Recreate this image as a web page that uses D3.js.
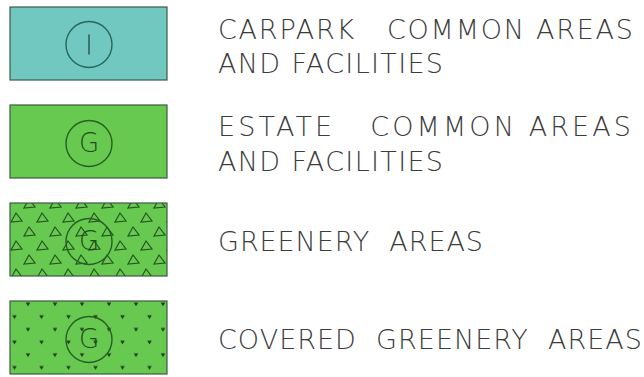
<!DOCTYPE html>
<html>
<head>
<meta charset="utf-8">
<script src="https://cdn.jsdelivr.net/npm/d3@7"></script>
<style>
  body { margin: 0; background: #fff; }
  text { white-space: pre; }
</style>
</head>
<body>
<div id="chart"></div>
<script>
// legend entries
const keys = ["carpark", "estate", "greenery", "covered"];
const labelLines = [
  ["CARPARK   COMMON AREAS", "AND FACILITIES"],
  ["ESTATE   COMMON AREAS", "AND FACILITIES"],
  ["GREENERY  AREAS"],
  ["COVERED  GREENERY  AREAS"]
];
const lineWidths = [[415, 225], [413, 225], [265], [424]];
const symbols = ["I", "G", "G", "G"];
const fills = ["#70c8c0", "#67c94f", "#67c94f", "#67c94f"];
const patterns = [null, null, "tri", "dot"];

const W = 644, H = 377;
const svg = d3.select("#chart")
  .append("svg")
  .attr("width", W)
  .attr("height", H);

const defs = svg.append("defs");

// triangle hatch
const tri = defs.append("pattern")
  .attr("id", "tri")
  .attr("patternUnits", "userSpaceOnUse")
  .attr("x", 10).attr("y", 203)
  .attr("width", 26).attr("height", 28);
tri.append("rect").attr("width", 26).attr("height", 28).attr("fill", "#67c94f");
const triPts = [[5, 3], [18, 17]];
triPts.forEach(([px, py]) => {
  tri.append("path")
    .attr("d", `M${px - 4},${py + 9} L${px + 1},${py} L${px + 7},${py + 8} Z`)
    .attr("fill", "none")
    .attr("stroke", "#24541f")
    .attr("stroke-width", 1.2);
});

// dot hatch
const dot = defs.append("pattern")
  .attr("id", "dot")
  .attr("patternUnits", "userSpaceOnUse")
  .attr("x", 10).attr("y", 302)
  .attr("width", 27).attr("height", 25.4);
dot.append("rect").attr("width", 27).attr("height", 25.4).attr("fill", "#67c94f");
[[18, 6], [4.5, 18.7]].forEach(([px, py]) => {
  dot.append("path")
    .attr("d", `M${px - 2.3},${py - 1.5} L${px + 2.3},${py - 1.5} L${px},${py + 2} Z`)
    .attr("fill", "#1f3a1d");
});

const y = d3.scaleBand()
  .domain(keys)
  .range([7, 374])
  .paddingInner(0.255)
  .paddingOuter(0);

const x = d3.scaleLinear()
  .domain([0, 1])
  .range([10, 167]);

const rows = svg.selectAll("g.row")
  .data(keys)
  .enter()
  .append("g")
  .attr("class", "row")
  .attr("transform", d => `translate(0,${y(d)})`);

rows.append("rect")
  .attr("x", x(0))
  .attr("y", 0)
  .attr("width", x(1) - x(0))
  .attr("height", y.bandwidth())
  .attr("fill", (d, i) => patterns[i] ? `url(#${patterns[i]})` : fills[i])
  .attr("stroke", "#3c5a44")
  .attr("stroke-width", 1.2);

const cx = (x(0) + x(1)) / 2 + 0.5;
const cy = y.bandwidth() / 2 + 4;

rows.append("circle")
  .attr("cx", cx)
  .attr("cy", (d, i) => i === 0 ? cy - 3 : cy - 2)
  .attr("r", 23)
  .attr("fill", "none")
  .attr("stroke", (d, i) => i === 0 ? "#276858" : "#285f25")
  .attr("stroke-width", 1.4);

rows.each(function (d, i) {
  const g = d3.select(this);
  const c = i === 0 ? cy - 3 : cy - 2;
  if (symbols[i] === "I") {
    g.append("line")
      .attr("x1", cx).attr("x2", cx)
      .attr("y1", c - 10).attr("y2", c + 10)
      .attr("stroke", "#2a5048")
      .attr("stroke-width", 1.4);
  } else {
    g.append("text")
      .attr("x", cx)
      .attr("y", c + 9)
      .attr("text-anchor", "middle")
      .attr("font-family", "DejaVu Sans")
      .attr("font-weight", 200)
      .attr("font-size", 26)
      .attr("fill", "#1f4a1d")
      .text(symbols[i]);
  }

  const lines = labelLines[i];
  const base = lines.length === 2 ? 31.5 : 48.5;
  lines.forEach((t, j) => {
    g.append("text")
      .attr("x", 218)
      .attr("y", base + j * 34.5)
      .attr("font-family", "DejaVu Sans")
      .attr("font-weight", 200)
      .attr("font-size", 27)
      .attr("fill", "#3c3c3c")
      .attr("textLength", lineWidths[i][j])
      .attr("lengthAdjust", "spacing")
      .text(t);
  });
});
</script>
</body>
</html>
